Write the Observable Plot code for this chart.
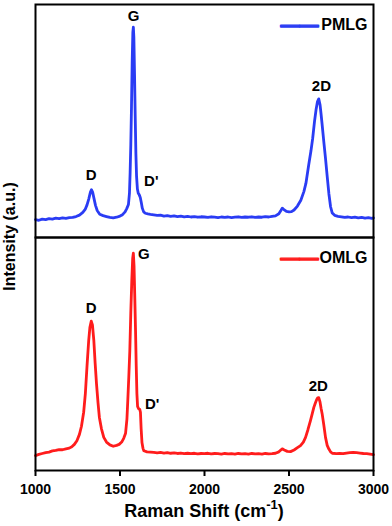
<!DOCTYPE html>
<html><head><meta charset="utf-8">
<script src="https://cdn.jsdelivr.net/npm/d3@7"></script>
<script src="https://cdn.jsdelivr.net/npm/@observablehq/plot@0.6"></script>
<style>body{margin:0;background:#fff}</style>
</head><body><div id="chart"></div>
<script>
// Raman spectra, [Raman shift (cm^-1), intensity (a.u.)]
const pmlg = [[1000,77],[1020,74],[1040,79],[1060,77],[1080,81],[1100,79],[1120,83],[1140,81],[1160,84],[1180,82],[1200,85],[1220,86],[1240,90],[1260,96],[1280,108],[1295,122],[1305,140],[1315,165],[1325,195],[1331,205],[1338,195],[1346,168],[1355,138],[1365,116],[1380,100],[1400,94],[1420,90],[1440,86],[1460,84],[1480,87],[1500,92],[1515,98],[1530,110],[1540,124],[1550,142],[1556,190],[1560,280],[1564,400],[1568,560],[1572,750],[1576,880],[1579,903],[1582,860],[1586,700],[1590,520],[1594,360],[1598,262],[1603,208],[1608,190],[1614,183],[1620,172],[1626,150],[1632,126],[1640,110],[1650,104],[1665,101],[1680,99],[1700,97],[1720,95],[1740,96],[1760,92],[1780,94],[1800,91],[1820,93],[1840,90],[1860,92],[1880,89],[1900,91],[1920,88],[1940,90],[1960,87],[1980,89],[2000,88],[2020,86],[2040,89],[2060,87],[2080,85],[2100,88],[2120,86],[2140,88],[2160,85],[2180,87],[2200,89],[2220,86],[2240,88],[2260,87],[2280,89],[2300,86],[2320,88],[2340,87],[2360,90],[2380,88],[2400,91],[2420,93],[2440,102],[2452,116],[2460,126],[2470,120],[2485,112],[2500,110],[2515,111],[2530,118],[2550,135],[2570,160],[2588,197],[2600,232],[2617,313],[2630,372],[2640,425],[2651,498],[2660,548],[2668,582],[2676,595],[2684,568],[2690,528],[2696,485],[2706,410],[2716,340],[2726,262],[2736,188],[2746,132],[2756,105],[2770,95],[2790,91],[2810,89],[2830,86],[2850,88],[2870,85],[2890,87],[2910,84],[2930,86],[2950,83],[2970,85],[2990,82],[3000,84]];

const omlg = [[1000,64],[1020,69],[1040,73],[1060,77],[1080,79],[1100,84],[1120,86],[1140,90],[1160,89],[1180,93],[1200,96],[1215,102],[1230,112],[1245,128],[1260,155],[1272,190],[1285,250],[1295,330],[1305,450],[1315,560],[1322,615],[1330,641],[1337,625],[1345,560],[1353,460],[1361,372],[1370,290],[1378,228],[1390,180],[1404,142],[1420,122],[1440,110],[1460,104],[1480,108],[1495,112],[1510,122],[1522,138],[1533,160],[1541,220],[1546,299],[1552,400],[1558,513],[1564,680],[1570,820],[1575,910],[1579,933],[1583,880],[1587,760],[1592,598],[1596,450],[1600,330],[1604,275],[1610,265],[1617,262],[1621,250],[1625,180],[1630,120],[1636,95],[1641,85],[1660,80],[1680,79],[1700,78],[1720,76],[1740,78],[1760,75],[1780,77],[1800,74],[1820,76],[1840,73],[1860,75],[1880,72],[1900,74],[1920,72],[1940,74],[1960,71],[1980,73],[2000,72],[2020,74],[2040,71],[2060,73],[2080,72],[2100,70],[2120,73],[2140,71],[2160,72],[2180,70],[2200,73],[2220,71],[2240,72],[2260,70],[2280,73],[2300,71],[2320,72],[2340,70],[2360,73],[2380,71],[2400,72],[2420,74],[2440,80],[2450,87],[2460,93],[2472,88],[2490,82],[2509,81],[2530,88],[2550,98],[2568,107],[2585,122],[2598,142],[2612,175],[2627,214],[2638,245],[2647,271],[2656,290],[2664,305],[2670,312],[2676,313],[2683,296],[2690,266],[2696,244],[2706,195],[2716,142],[2726,108],[2736,92],[2746,80],[2756,74],[2780,72],[2800,73],[2820,72],[2840,75],[2860,77],[2880,78],[2900,77],[2920,75],[2940,73],[2960,72],[2980,70],[3000,68]];

const samples = ["PMLG", "OMLG"];
const sampleColors = ["#2a3cf4", "#ff1c1c"];
const xTicks = [1000, 1500, 2000, 2500, 3000];

const peakLabels = ["D", "G", "D'", "2D", "D", "G", "D'", "2D"];
const peakShift = [1330, 1580, 1685, 2692, 1330, 1641, 1690, 2673];
const peakIntensity = [266, 948, 240, 648, 697, 929, 286, 363];
const peakSample = ["PMLG", "PMLG", "PMLG", "PMLG", "OMLG", "OMLG", "OMLG", "OMLG"];

const xTitle = "Raman Shift (cm";
const xTitleSup = "-1";
const yTitle = "Intensity (a.u.)";

// build tables
const rows = [];
pmlg.forEach(([s, v]) => rows.push({sample: "PMLG", shift: s, intensity: v}));
omlg.forEach(([s, v]) => rows.push({sample: "OMLG", shift: s, intensity: v}));
const peaks = peakLabels.map((t, i) => ({text: t, shift: peakShift[i], intensity: peakIntensity[i], sample: peakSample[i]}));

const W = 392, H = 526, mL = 35, mR = 19, mT = 3, mB = 56;

const chart = Plot.plot({
  width: W, height: H,
  marginTop: mT, marginLeft: mL, marginRight: mR, marginBottom: mB,
  style: {fontFamily: "'Liberation Sans', Arial, sans-serif", fontWeight: "bold", fontSize: "14px", color: "black", background: "white"},
  x: {domain: [1000, 3000]},
  y: {domain: [0, 1000], axis: null},
  fy: {domain: samples, axis: null, padding: 0},
  color: {domain: samples, range: sampleColors},
  marks: [
    Plot.line(rows, {x: "shift", y: "intensity", fy: "sample", stroke: "sample", strokeWidth: 2.8, strokeLinejoin: "round"}),
    Plot.frame({stroke: "black", strokeWidth: 2}),
    Plot.axisX({ticks: xTicks, tickSize: 6, tickPadding: 8, strokeWidth: 2, label: null, tickFormat: d => String(d), fill: "black", fontSize: 14, fontWeight: "bold"}),
    Plot.text(peaks, {x: "shift", y: "intensity", fy: "sample", text: "text", fontSize: 15, fontWeight: "bold", fill: "black"}),
    Plot.text(samples, {fy: d => d, text: d => d, frameAnchor: "top-right", dx: -6, dy: 14, textAnchor: "end", fontSize: 16, fontWeight: "bold", fill: "black"}),
    Plot.text(samples, {fy: d => d, text: () => "——", frameAnchor: "top-right", dx: -55, dy: 12.5, textAnchor: "end", fontSize: 19, fill: d => d, stroke: d => d, strokeWidth: 1.4})
  ]
});

const svg = d3.select(chart);
svg.selectAll("text").attr("font-weight", "bold");
const xt = svg.append("text")
  .attr("x", mL + (W - mL - mR) / 2).attr("y", 517)
  .attr("text-anchor", "middle").attr("font-size", 18).attr("font-weight", "bold").attr("fill", "black");
xt.append("tspan").text(xTitle);
xt.append("tspan").attr("dy", -8).attr("font-size", 13).text(xTitleSup);
xt.append("tspan").attr("dy", 8).text(")");

svg.append("text")
  .attr("transform", `translate(14.5, ${mT + (H - mT - mB) / 2}) rotate(-90)`)
  .attr("text-anchor", "middle").attr("font-size", 16).attr("font-weight", "bold").attr("fill", "black")
  .text(yTitle);

document.getElementById("chart").appendChild(chart);
</script>
</body></html>
